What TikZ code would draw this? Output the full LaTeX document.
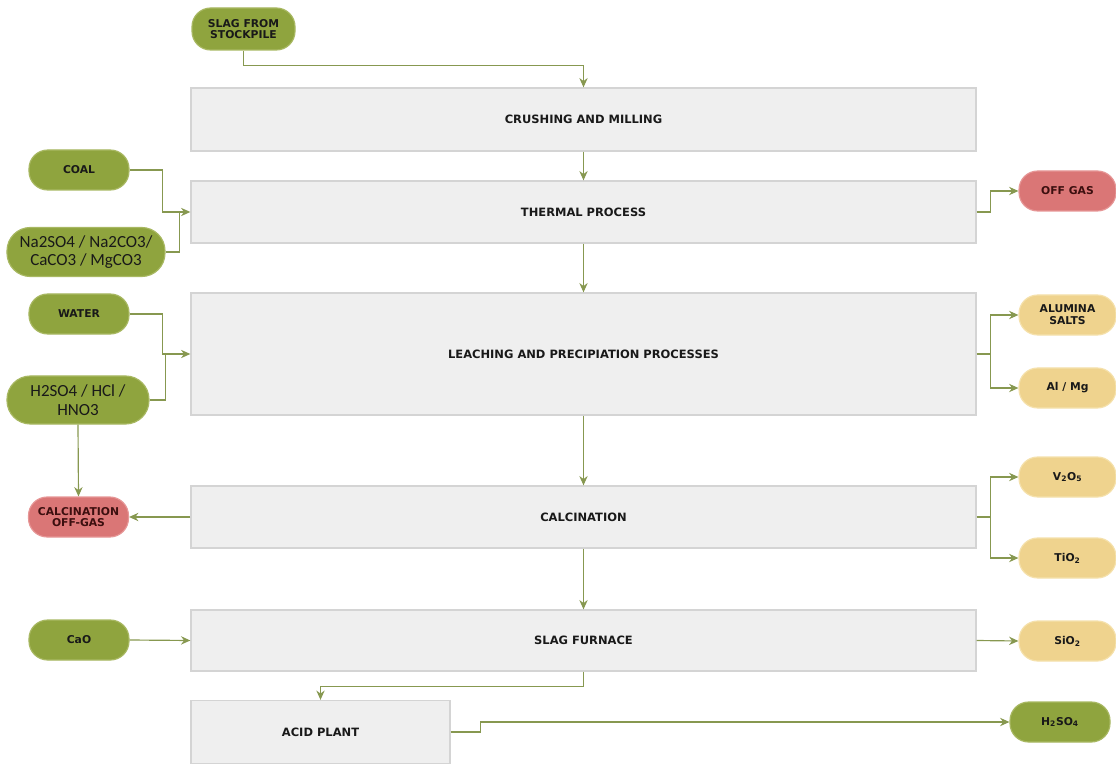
\documentclass[tikz,border=0pt]{standalone}
\usepackage{fontspec}
\setmainfont{DejaVu Sans}
\newfontfamily\calibFont{Carlito}
\usetikzlibrary{calc,arrows.meta}
\definecolor{boxFill}{RGB}{239,239,239}
\definecolor{boxEdge}{RGB}{212,212,212}
\definecolor{feedGreen}{RGB}{143,164,62}
\definecolor{feedEdge}{RGB}{168,184,98}
\definecolor{gasRed}{RGB}{218,118,118}
\definecolor{gasEdge}{RGB}{230,150,150}
\definecolor{gasInk}{RGB}{60,15,15}
\definecolor{prodTan}{RGB}{239,211,142}
\definecolor{prodEdge}{RGB}{245,225,172}
\definecolor{flowInk}{RGB}{135,152,80}
\definecolor{labelInk}{RGB}{25,25,25}
\tikzset{
  procBox/.style={draw=boxEdge,fill=boxFill,line width=1.1pt,minimum width=23.55cm,
    font=\bfseries\fontsize{9.8}{11}\selectfont,text=labelInk},
  pill/.style={rounded corners=0.56cm,line width=1pt,minimum width=3cm,minimum height=1.2cm,
    inner sep=1pt,align=center,font=\bfseries\fontsize{9.2}{10}\selectfont,text=labelInk},
  feedPill/.style={pill,draw=feedEdge,fill=feedGreen},
  gasPill/.style={pill,draw=gasEdge,fill=gasRed,text=gasInk},
  prodPill/.style={pill,draw=prodEdge,fill=prodTan},
  flow/.style={draw=flowInk,line width=1pt,-{Stealth[length=2.8mm,width=2.5mm]}},
  flowLine/.style={draw=flowInk,line width=1pt},
}

\begin{document}
\begin{tikzpicture}[x=0.03cm,y=-0.03cm]
\useasboundingbox (0,0) rectangle (1116,765);

% process column
\node[procBox,minimum height=1.89cm] (crush) at (583.5,119.5) {CRUSHING AND MILLING};
\node[procBox,minimum height=1.86cm] (thermal) at (583.5,212) {THERMAL PROCESS};
\node[procBox,minimum height=3.66cm] (leach) at (583.5,354) {LEACHING AND PRECIPIATION PROCESSES};
\node[procBox,minimum height=1.86cm] (calc) at (583.5,517) {CALCINATION};
\node[procBox,minimum height=1.83cm] (furnace) at (583.5,640.5) {SLAG FURNACE};
\node[procBox,minimum width=7.77cm,minimum height=1.89cm] (acid) at (320.5,732) {ACID PLANT};

% inputs
\node[feedPill,minimum width=3.09cm,minimum height=1.26cm] (slag) at (243.5,29) {SLAG FROM\\STOCKPILE};
\node[feedPill] (coal) at (79,170) {COAL};
\node[feedPill,minimum width=4.74cm,minimum height=1.47cm,rounded corners=0.7cm,
      font=\calibFont\fontsize{14.5}{16}\selectfont] (salts) at (86,252) {Na2SO4 / Na2CO3/\\CaCO3 / MgCO3};
\node[feedPill] (water) at (79,314) {WATER};
\node[feedPill,minimum width=4.26cm,minimum height=1.44cm,rounded corners=0.7cm,
      font=\calibFont\fontsize{14.5}{16}\selectfont] (acids) at (78,400) {H2SO4 / HCl /\\HNO3};
\node[feedPill] (cao) at (79,640) {CaO};

% outputs
\node[gasPill] (calcGas) at (78.5,517) {CALCINATION\\OFF-GAS};
\node[gasPill,minimum width=2.91cm] (offGas) at (1067.5,191) {OFF GAS};
\node[prodPill,minimum width=2.91cm] (alumina) at (1067.5,315) {ALUMINA\\SALTS};
\node[prodPill,minimum width=2.91cm] (alMg) at (1067.5,388) {Al / Mg};
\node[prodPill,minimum width=2.91cm] (vox) at (1067.5,477) {V\textsubscript{2}O\textsubscript{5}};
\node[prodPill,minimum width=2.91cm] (tiox) at (1067.5,558) {TiO\textsubscript{2}};
\node[prodPill,minimum width=2.91cm] (siox) at (1067.5,641) {SiO\textsubscript{2}};
\node[feedPill] (acidOut) at (1060,722) {H\textsubscript{2}SO\textsubscript{4}};

% main flow
\draw[flow] (slag.south) -- ++(0,15) -| (crush.north);
\draw[flow] (crush.south) -- (thermal.north);
\draw[flow] (thermal.south) -- (leach.north);
\draw[flow] (leach.south) -- (calc.north);
\draw[flow] (calc.south) -- (furnace.north);
\draw[flow] (furnace.south) -- ++(0,15) -| (acid.north);
\draw[flow] (acid.east) -- ++(30,0) |- (acidOut.west);

% feeds
\coordinate (thermIn) at ($(thermal.west)+(-11,0)$);
\draw[flow] (coal.east) -- ++(33,0) |- (thermal.west);
\draw[flowLine] (salts.east) -| (thermIn);
\coordinate (leachIn) at ($(leach.west)+(-25,0)$);
\draw[flow] (water.east) -- ++(33,0) |- (leach.west);
\draw[flowLine] (acids.east) -| (leachIn);
\draw[flow] (acids.south) -- (calcGas.north);
\draw[flow] (calc.west) -- (calcGas.east);
\draw[flow] (cao.east) -- (furnace.west);

% products
\draw[flow] (thermal.east) -- ++(14,0) |- (offGas.west);
\draw[flowLine] (leach.east) -- ++(14,0) coordinate (leachOut);
\draw[flow] (leachOut) |- (alumina.west);
\draw[flow] (leachOut) |- (alMg.west);
\draw[flowLine] (calc.east) -- ++(14,0) coordinate (calcOut);
\draw[flow] (calcOut) |- (vox.west);
\draw[flow] (calcOut) |- (tiox.west);
\draw[flow] (furnace.east) -- (siox.west);
\end{tikzpicture}
\end{document}
